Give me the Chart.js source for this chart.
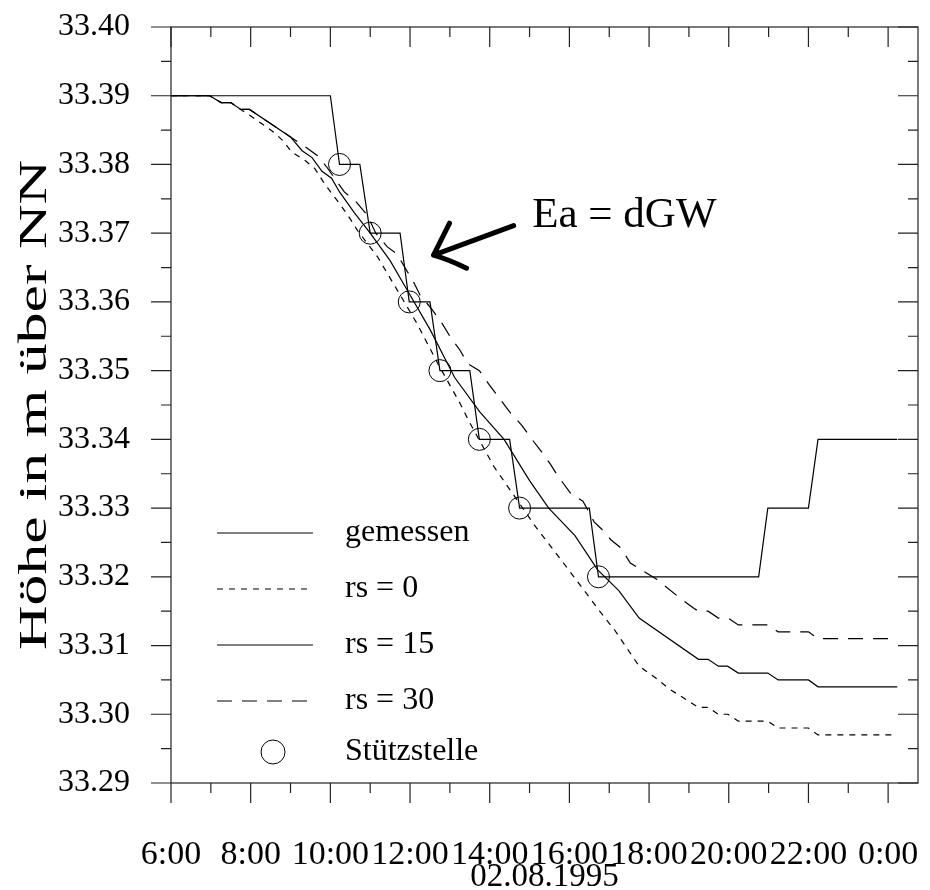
<!DOCTYPE html>
<html>
<head>
<meta charset="utf-8">
<script src="https://cdn.jsdelivr.net/npm/chart.js@4/dist/chart.umd.min.js"></script>
<style>
    body { margin: 0; background: #fff; }
    canvas { display: block; }
</style>
</head>
<body>
<canvas id="grafica" width="930" height="890"></canvas>
<script>
// Uhrzeit in Stunden (24 = 0:00 des Folgetages), Wasserstand in m ueber NN
const gemessenZeit = [6.0, 10.0, 10.23, 10.74, 11.0, 11.75, 11.98, 12.5, 12.75, 13.5, 13.74, 14.5, 14.75, 16.5, 16.73, 20.75, 20.98, 22.0, 22.24, 24.23];
const gemessenWert = [33.39, 33.39, 33.38, 33.38, 33.37, 33.37, 33.36, 33.36, 33.35, 33.35, 33.34, 33.34, 33.33, 33.33, 33.32, 33.32, 33.33, 33.33, 33.34, 33.34];

const rs0Zeit = [6.0, 6.97, 7.26, 7.5, 7.75, 8.04, 8.58, 8.8, 9.03, 9.36, 9.61, 9.82, 10.03, 10.23, 10.44, 10.68, 11.18, 11.63, 12.17, 12.7, 13.25, 13.5, 13.9, 14.11, 15.15, 15.47, 16.14, 16.8, 17.13, 17.75, 18.16, 18.53, 18.94, 19.24, 19.48, 19.74, 19.98, 20.24, 20.98, 21.24, 22.0, 22.24, 24.23];
const rs0Wert = [33.39, 33.39, 33.389, 33.389, 33.388, 33.3869, 33.3847, 33.3835, 33.3818, 33.3806, 33.3794, 33.3775, 33.3758, 33.3743, 33.3726, 33.3704, 33.3666, 33.3622, 33.3569, 33.351, 33.3453, 33.3424, 33.3382, 33.336, 33.3273, 33.3249, 33.3198, 33.3147, 33.3123, 33.307, 33.3053, 33.3036, 33.3021, 33.301, 33.301, 33.300, 33.300, 33.299, 33.299, 33.298, 33.298, 33.297, 33.297];

const rs15Zeit = [6.0, 6.97, 7.26, 7.5, 7.75, 7.97, 9.0, 9.29, 9.54, 9.79, 10.03, 10.23, 10.6, 11.0, 11.5, 12.0, 12.5, 13.12, 13.75, 14.36, 15.0, 15.48, 16.14, 16.71, 17.24, 17.75, 19.24, 19.48, 19.74, 19.97, 20.24, 20.98, 21.24, 22.0, 22.24, 24.23];
const rs15Wert = [33.39, 33.39, 33.389, 33.389, 33.388, 33.388, 33.384, 33.382, 33.381, 33.379, 33.378, 33.376, 33.373, 33.370, 33.366, 33.361, 33.356, 33.349, 33.344, 33.340, 33.334, 33.330, 33.326, 33.321, 33.318, 33.314, 33.308, 33.308, 33.307, 33.307, 33.306, 33.306, 33.305, 33.305, 33.304, 33.304];

const rs30Zeit = [6.0, 6.97, 7.26, 7.5, 7.75, 7.97, 9.0, 9.36, 9.67, 9.9, 10.35, 10.64, 10.93, 11.14, 11.43, 11.67, 11.87, 12.08, 12.25, 12.54, 12.79, 13.0, 13.25, 13.45, 13.74, 13.98, 14.5, 14.81, 15.06, 15.26, 15.51, 15.72, 16.05, 16.34, 16.62, 16.8, 17.04, 17.29, 17.53, 18.2, 18.82, 19.13, 19.24, 19.48, 19.74, 19.98, 20.24, 20.98, 21.24, 22.0, 22.24, 24.23];
const rs30Wert = [33.39, 33.39, 33.389, 33.389, 33.388, 33.388, 33.384, 33.3826, 33.3813, 33.3797, 33.376, 33.3746, 33.3726, 33.370, 33.368, 33.367, 33.365, 33.363, 33.361, 33.359, 33.357, 33.355, 33.353, 33.351, 33.350, 33.348, 33.344, 33.342, 33.340, 33.3385, 33.3365, 33.3346, 33.332, 33.331, 33.328, 33.327, 33.3254, 33.3242, 33.322, 33.3196, 33.3167, 33.3154, 33.315, 33.315, 33.314, 33.314, 33.313, 33.313, 33.312, 33.312, 33.311, 33.311];

const stuetzZeit = [10.23, 11.0, 11.98, 12.75, 13.74, 14.75, 16.73];
const stuetzWert = [33.38, 33.37, 33.36, 33.35, 33.34, 33.33, 33.32];

const legendeTexte = ['gemessen', 'rs = 0', 'rs = 15', 'rs = 30', 'Stützstelle'];
const achseY = 'Höhe in m über NN';
const achseX = '02.08.1995';
const notiz = 'Ea = dGW';

const schrift = "'Liberation Serif', 'Times New Roman', serif";

function punkte(zeit, wert) {
    return zeit.map((t, i) => ({ x: t, y: wert[i] }));
}

function linie(label, zeit, wert, dash) {
    return {
        label: label,
        data: punkte(zeit, wert),
        borderColor: '#000',
        borderWidth: 1.2,
        borderDash: dash,
        pointRadius: 0,
        tension: 0,
        fill: false
    };
}

// Rahmen mit Haupt- und Nebenstrichen auf allen vier Seiten
const rahmen = {
    id: 'rahmen',
    afterDraw(chart) {
        const { ctx, chartArea: a, scales: { x, y } } = chart;
        ctx.save();
        ctx.strokeStyle = '#222';
        ctx.lineWidth = 1.2;
        ctx.strokeRect(a.left, a.top, a.right - a.left, a.bottom - a.top);
        ctx.beginPath();
        x.ticks.forEach(t => {
            const px = x.getPixelForValue(t.value);
            const len = t.value % 2 === 0 ? 20 : 10;
            ctx.moveTo(px, a.bottom); ctx.lineTo(px, a.bottom + len);
            ctx.moveTo(px, a.top); ctx.lineTo(px, a.top + len);
        });
        y.ticks.forEach((t, i) => {
            const py = y.getPixelForValue(t.value);
            ctx.moveTo(a.left, py); ctx.lineTo(a.left - 20, py);
            ctx.moveTo(a.right, py); ctx.lineTo(a.right - 20, py);
            if (i < y.ticks.length - 1) {
                const pm = y.getPixelForValue((t.value + y.ticks[i + 1].value) / 2);
                ctx.moveTo(a.left, pm); ctx.lineTo(a.left - 10, pm);
                ctx.moveTo(a.right, pm); ctx.lineTo(a.right - 10, pm);
            }
        });
        ctx.stroke();
        ctx.restore();
    }
};

// Legende im Diagramm, Achsentitel und Beschriftung mit Pfeil
const beschriftung = {
    id: 'beschriftung',
    afterDraw(chart) {
        const { ctx, chartArea: a, scales: { x, y } } = chart;
        ctx.save();
        ctx.fillStyle = '#000';
        ctx.font = '32px ' + schrift;
        ctx.textBaseline = 'middle';
        const x0 = a.left + 46, x1 = a.left + 142, xt = a.left + 174;
        const zeilen = [506, 562, 618, 674, 725];
        chart.data.datasets.forEach((ds, i) => {
            const yy = a.top + zeilen[i];
            ctx.strokeStyle = '#000';
            if (ds.showLine === false) {
                ctx.lineWidth = 1;
                ctx.setLineDash([]);
                ctx.beginPath();
                ctx.arc((x0 + x1) / 2 + 8, yy, ds.pointRadius + 1, 0, Math.PI * 2);
                ctx.stroke();
            } else {
                ctx.lineWidth = ds.borderWidth;
                ctx.setLineDash(ds.borderDash || []);
                ctx.beginPath();
                ctx.moveTo(x0, yy);
                ctx.lineTo(x1, yy);
                ctx.stroke();
            }
            ctx.setLineDash([]);
            ctx.fillText(legendeTexte[i], xt, yy);
        });

        // y-Achsentitel, in Laengsrichtung gestreckt wie im Original
        ctx.save();
        ctx.translate(35, (a.top + a.bottom) / 2);
        ctx.rotate(-Math.PI / 2);
        ctx.font = '40px ' + schrift;
        ctx.textAlign = 'center';
        const breite = ctx.measureText(achseY).width;
        ctx.scale(490 / breite, 1);
        ctx.fillText(achseY, 0, 0);
        ctx.restore();

        ctx.font = '43px ' + schrift;
        ctx.textAlign = 'center';
        ctx.fillText(notiz, x.getPixelForValue(17.38), y.getPixelForValue(33.3725));

        const spitzeX = x.getPixelForValue(12.59), spitzeY = y.getPixelForValue(33.3668);
        const endeX = x.getPixelForValue(14.6), endeY = y.getPixelForValue(33.3711);
        ctx.lineWidth = 5;
        ctx.lineCap = 'round';
        ctx.lineJoin = 'round';
        ctx.beginPath();
        ctx.moveTo(endeX, endeY);
        ctx.lineTo(spitzeX, spitzeY);
        ctx.moveTo(spitzeX + 16, spitzeY - 32);
        ctx.quadraticCurveTo(spitzeX + 6, spitzeY - 12, spitzeX, spitzeY);
        ctx.quadraticCurveTo(spitzeX + 14, spitzeY + 4, spitzeX + 33, spitzeY + 13);
        ctx.stroke();
        ctx.restore();
    }
};

new Chart(document.getElementById('grafica'), {
    type: 'line',
    data: {
        datasets: [
            linie('gemessen', gemessenZeit, gemessenWert, []),
            linie('rs = 0', rs0Zeit, rs0Wert, [6, 6]),
            linie('rs = 15', rs15Zeit, rs15Wert, []),
            linie('rs = 30', rs30Zeit, rs30Wert, [15, 10]),
            {
                label: 'Stützstelle',
                data: punkte(stuetzZeit, stuetzWert),
                showLine: false,
                pointRadius: 11,
                pointStyle: 'circle',
                pointBorderWidth: 1,
                pointBorderColor: '#000',
                pointBackgroundColor: 'rgba(0,0,0,0)',
                borderColor: '#000',
                backgroundColor: 'rgba(0,0,0,0)'
            }
        ]
    },
    options: {
        responsive: false,
        devicePixelRatio: 1,
        animation: false,
        layout: { padding: { top: 27, right: 3, left: 0, bottom: 0 } },
        plugins: {
            legend: { display: false },
            tooltip: { enabled: false }
        },
        scales: {
            x: {
                type: 'linear',
                min: 6,
                max: 24.75,
                grid: { display: false, drawTicks: false },
                border: { display: false },
                afterFit: (scale) => {
                    scale.height = 107;
                    scale.paddingLeft = 0;
                    scale.paddingRight = 0;
                },
                ticks: {
                    stepSize: 1,
                    includeBounds: false,
                    autoSkip: false,
                    maxRotation: 0,
                    padding: 52,
                    color: '#000',
                    font: { family: schrift, size: 34 },
                    callback: (v) => (v % 2 === 0 ? (v % 24) + ':00' : '')
                },
                title: {
                    display: true,
                    text: achseX,
                    color: '#000',
                    font: { family: schrift, size: 33, lineHeight: 1 },
                    padding: { top: 0, bottom: -4 }
                }
            },
            y: {
                min: 33.29,
                max: 33.40,
                grid: { display: false, drawTicks: false },
                border: { display: false },
                afterFit: (scale) => {
                    scale.width = 171;
                    scale.paddingTop = 0;
                    scale.paddingBottom = 0;
                },
                ticks: {
                    stepSize: 0.01,
                    padding: 41,
                    color: '#000',
                    font: { family: schrift, size: 32 },
                    callback: (v) => v.toFixed(2)
                }
            }
        }
    },
    plugins: [rahmen, beschriftung]
});
</script>
</body>
</html>
